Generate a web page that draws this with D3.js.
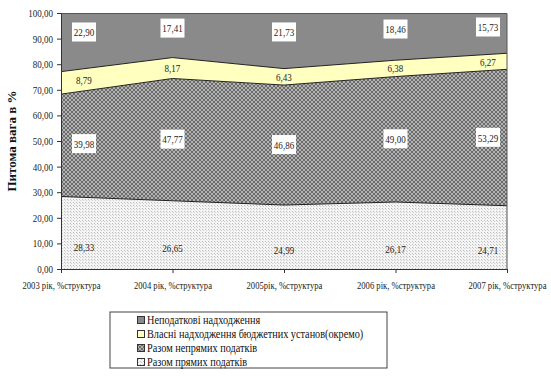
<!DOCTYPE html>
<html>
<head>
<meta charset="utf-8">
<script src="https://cdn.jsdelivr.net/npm/d3@7"></script>
<style>
  body { margin: 0; background: #fff; }
  svg { display: block; }
  svg text { font-family: "Liberation Serif", "DejaVu Serif", serif; }
</style>
</head>
<body>
<svg id="drawing_region"></svg>
<script>
// categories and series, bottom to top
const categories = ["2003 рік, %структура", "2004 рік, %структура", "2005рік, %структура", "2006 рік, %структура", "2007 рік, %структура"];
const seriesNames = ["Разом прямих податків", "Разом непрямих податків", "Власні надходження бюджетних установ(окремо)", "Неподаткові надходження"];
const direct   = [28.33, 26.65, 24.99, 26.17, 24.71];
const indirect = [39.98, 47.77, 46.86, 49.00, 53.29];
const own      = [8.79, 8.17, 6.43, 6.38, 6.27];
const nontax   = [22.90, 17.41, 21.73, 18.46, 15.73];
const yTicks = [0, 10, 20, 30, 40, 50, 60, 70, 80, 90, 100];

const config = {
    width: 551,
    height: 376,
    margin: {top: 13, right: 44, bottom: 107, left: 61}
};

const serif = '"Liberation Serif", "DejaVu Serif", serif';
const squeeze = 'scale(0.82,1)';   // the original text is narrow
const fmt = v => v.toFixed(2).replace('.', ',');

const svg = d3.select('#drawing_region')
    .attr('width', config.width)
    .attr('height', config.height);

const inner_width = config.width - config.margin.left - config.margin.right;
const inner_height = config.height - config.margin.top - config.margin.bottom;

// patterns
const defs = svg.append('defs');
const pIndirect = defs.append('pattern')
    .attr('id', 'pat_indirect').attr('width', 4).attr('height', 4)
    .attr('patternUnits', 'userSpaceOnUse');
pIndirect.append('rect').attr('width', 4).attr('height', 4).attr('fill', '#b2b2b2');
pIndirect.append('rect').attr('width', 2).attr('height', 2).attr('fill', '#6c6c6c');
pIndirect.append('rect').attr('x', 2).attr('y', 2).attr('width', 2).attr('height', 2).attr('fill', '#6c6c6c');

const pDirect = defs.append('pattern')
    .attr('id', 'pat_direct').attr('width', 3).attr('height', 3)
    .attr('patternUnits', 'userSpaceOnUse');
pDirect.append('rect').attr('width', 3).attr('height', 3).attr('fill', '#f4f4f4');
pDirect.append('rect').attr('width', 1).attr('height', 1).attr('fill', '#bcbcbc');
pDirect.append('rect').attr('x', 1).attr('y', 1).attr('width', 1).attr('height', 1).attr('fill', '#d0d0d0');

const fills = ['url(#pat_direct)', 'url(#pat_indirect)', '#ffffc0', '#8a8a8a'];

const chart = svg.append('g')
    .attr('transform', `translate(${config.margin.left}, ${config.margin.top})`);

const xscale = d3.scalePoint()
    .domain(categories)
    .range([0, inner_width]);

const yscale = d3.scaleLinear()
    .domain([0, 100])
    .range([inner_height, 0]);

// stack data
const table = categories.map((c, i) => ({
    cat: c,
    s0: direct[i], s1: indirect[i], s2: own[i], s3: nontax[i]
}));
const keys = ['s0', 's1', 's2', 's3'];
const stacked = d3.stack().keys(keys)(table);

const area = d3.area()
    .x(d => xscale(d.data.cat))
    .y0(d => yscale(d[0]))
    .y1(d => yscale(d[1]));

const topLine = d3.line()
    .x(d => xscale(d.data.cat))
    .y(d => yscale(d[1]));

chart.selectAll('path.area')
    .data(stacked)
    .enter()
    .append('path')
    .attr('class', 'area')
    .attr('d', area)
    .attr('fill', (d, i) => fills[i]);

chart.selectAll('path.edge')
    .data(stacked.slice(0, 3))
    .enter()
    .append('path')
    .attr('class', 'edge')
    .attr('d', topLine)
    .attr('fill', 'none')
    .attr('stroke', '#222')
    .attr('stroke-width', 1);

// plot border top/right
chart.append('path')
    .attr('d', `M0,0.5H${inner_width}V${inner_height}`)
    .attr('fill', 'none')
    .attr('stroke', '#555')
    .attr('stroke-width', 1);

// labels
const step = xscale.step();
const inset = 23;
stacked.forEach((layer, si) => {
    layer.forEach((d, i) => {
        let lx = xscale(d.data.cat);
        if (i === 0) lx += inset;
        if (i === layer.length - 1) lx -= inset - 4;
        // band value at label x
        const j = i === layer.length - 1 ? i - 1 : i;
        const t = (lx - xscale(categories[j])) / step;
        const lo = layer[j][0] + t * (layer[j + 1][0] - layer[j][0]);
        const hi = layer[j][1] + t * (layer[j + 1][1] - layer[j][1]);
        let mid = (lo + hi) / 2;
        if (si === 0) mid = mid * 0.6;           // bottom labels sit low
        if (si === 3) mid = hi - (hi - lo) * 0.35; // top labels sit high
        const ly = yscale(mid);
        const g = chart.append('g').attr('transform', `translate(${lx}, ${ly})`);
        if (si === 1 || si === 3) {
            g.append('rect')
                .attr('x', -12).attr('y', -10)
                .attr('width', 24).attr('height', 19)
                .attr('fill', '#fff');
        }
        g.append('text')
            .attr('transform', squeeze)
            .attr('text-anchor', 'middle')
            .attr('dy', '0.35em')
            .attr('font-size', '11px')
            .attr('font-family', serif)
            .attr('fill', '#222')
            .text(fmt(d.data[keys[si]]));
    });
});

// axes
const yaxis = d3.axisLeft(yscale)
    .tickValues(yTicks)
    .tickFormat(fmt)
    .tickSize(4)
    .tickSizeOuter(0)
    .tickPadding(4);

const yaxis_group = chart.append('g').call(yaxis)
    .attr('font-family', serif);
yaxis_group.selectAll('text')
    .attr('font-size', '11px').attr('fill', '#222')
    .attr('transform', squeeze)
    .attr('x', -8 / 0.82);
yaxis_group.selectAll('line,path').attr('stroke', '#333');

const xaxis = d3.axisBottom(xscale)
    .tickSize(4)
    .tickSizeOuter(0)
    .tickPadding(9);

const xaxis_group = chart.append('g')
    .attr('transform', `translate(0, ${inner_height})`)
    .call(xaxis)
    .attr('font-family', serif);
xaxis_group.selectAll('text')
    .attr('font-size', '10.5px').attr('fill', '#222')
    .attr('transform', squeeze);
xaxis_group.selectAll('line,path').attr('stroke', '#333');

// y title
svg.append('text')
    .attr('transform', `translate(16, ${config.margin.top + inner_height / 2}) rotate(-90)`)
    .attr('text-anchor', 'middle')
    .attr('font-size', '13px')
    .attr('font-weight', 700)
    .attr('font-family', serif)
    .attr('fill', '#111')
    .text('Питома вага в %');

// legend
const legend = svg.append('g').attr('transform', 'translate(110, 312)');
legend.append('rect')
    .attr('width', 277).attr('height', 56)
    .attr('fill', '#fff')
    .attr('stroke', '#444');

const legendFills = ['url(#pat_direct)', 'url(#pat_indirect)', '#ffffc0', '#8a8a8a'];
const legendOrder = [3, 2, 1, 0];
legendOrder.forEach((si, k) => {
    const row = legend.append('g').attr('transform', `translate(27, ${4 + k * 14})`);
    row.append('rect')
        .attr('x', 0.5).attr('y', 0.5)
        .attr('width', 7).attr('height', 7)
        .attr('fill', legendFills[si])
        .attr('stroke', '#333');
    row.append('text')
        .attr('transform', `translate(10,0) ${squeeze}`)
        .attr('y', 4)
        .attr('dy', '0.35em')
        .attr('font-size', '12.5px')
        .attr('font-family', serif)
        .attr('fill', '#111')
        .text(seriesNames[si]);
});
</script>
</body>
</html>
